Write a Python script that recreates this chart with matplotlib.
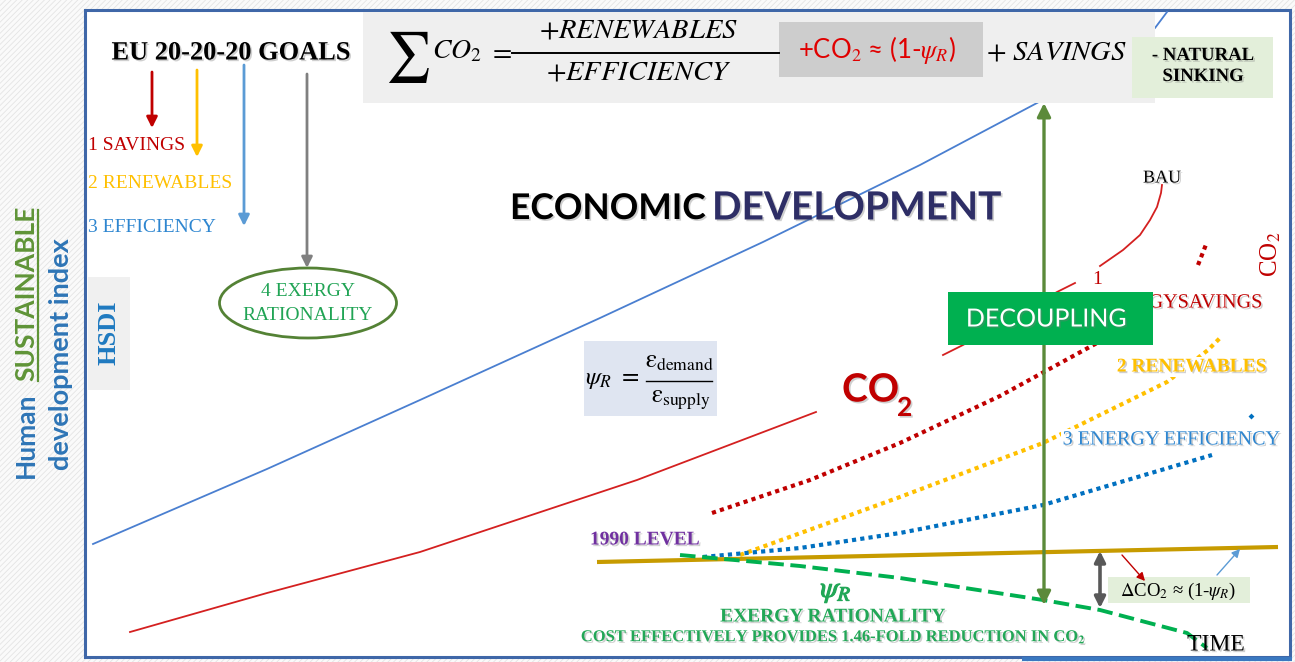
import matplotlib
matplotlib.use("Agg")
import matplotlib.pyplot as plt
import numpy as np
from matplotlib.patches import Rectangle, Ellipse
import matplotlib.patheffects as pe

plt.rcParams['mathtext.fontset'] = 'stix'
plt.rcParams['hatch.linewidth'] = 0.6

SERIF = 'Liberation Serif'
SANS = 'Lato'

# ---------------- data (schematic curves) -------------
econ_x = [93, 267, 420, 600, 763, 920, 1037, 1110, 1155, 1167]
econ_y = [544, 469, 400, 318, 242, 165, 103, 62, 28, 12]

co2_x = [130, 267, 420, 637, 816, np.nan, 943, 963, 1057, 1075, np.nan,
         1100, 1123, 1140, 1150, 1157, 1161, 1162]
co2_y = [632, 593, 552, 480, 412, np.nan, 355, 345, 292, 283, np.nan,
         266, 250, 235, 220, 207, 193, 185]

savings_x = [712, 810, 900, 1000, 1097, 1130, np.nan, 1198, 1207]
savings_y = [513, 480, 443, 396, 343, 318, np.nan, 265, 242]

renew_x = [740, 820, 900, 1043, 1167, 1208, 1220]
renew_y = [555, 526, 497, 443, 382, 350, 338]

effic_x = [703, 800, 900, 1043, 1212, np.nan, 1250, 1254]
effic_y = [557, 548, 533, 505, 455, np.nan, 418, 414]

level1990_x = [597, 1278]
level1990_y = [562, 547]

psi_x = [680, 800, 900, 1043, 1100, 1187, 1207]
psi_y = [555, 566, 578, 600, 610, 633, 648]

goal_labels = ['1 SAVINGS', '2 RENEWABLES', '3 EFFICIENCY']
goal_colors = ['#c00000', '#ffc000', '#2e86d0']
goal_label_y = [146, 183, 228]
goal_arrow_x = [152, 197, 244, 307]
goal_arrow_top = [72, 70, 65, 74]
goal_arrow_tip = [128, 157, 226, 268]
goal_arrow_col = ['#c00000', '#ffc000', '#5b9bd5', '#808080']

# ---------------- figure -------------------------------------------------------
W, H = 1295, 662
fig = plt.figure(figsize=(W / 100, H / 100), dpi=100)
ax = fig.add_axes([0, 0, 1, 1])
ax.set_xlim(0, W)
ax.set_ylim(H, 0)
ax.axis('off')

shadow = [pe.withSimplePatchShadow(offset=(1.2, -1.2), shadow_rgbFace='#777777', alpha=0.35)]

def T(x, y, s, size, color='black', family=SERIF, weight='normal', ha='center',
      va='center', z=6, **kw):
    return ax.text(x, y, s, fontsize=size, color=color, family=family, weight=weight,
                   ha=ha, va=va, zorder=z, **kw)

# background hatch and frame
ax.add_patch(Rectangle((0, 0), W, H, facecolor='#fafafa', edgecolor='#e4e4e4',
                       hatch='//////', lw=0, zorder=0))
ax.add_patch(Rectangle((85, 10), 1205, 647, facecolor='white', edgecolor='#3f67a8',
                       lw=2.2, zorder=0.5))
ax.plot([1022, 1292], [659, 659], color='#3a78c0', lw=3, zorder=0.6,
        solid_capstyle='butt')

# ---------------- curves ------------------------------------------------------
ax.plot(econ_x, econ_y, color='#4a7fd0', lw=1.3, zorder=1)
ax.plot(co2_x, co2_y, color='#d42020', lw=1.3, zorder=2)

dot = dict(lw=3.0, linestyle=(0, (1, 1)), zorder=3, dash_capstyle='butt')
ax.plot(savings_x, savings_y, color='#c00000', **dot)
ax.plot(renew_x, renew_y, color='#ffc000', **dot)
ax.plot(effic_x, effic_y, color='#0070c0', **dot)
ax.plot(level1990_x, level1990_y, color='#c79b00', lw=3.0, zorder=3.5,
        solid_capstyle='butt')
ax.plot(psi_x, psi_y, color='#00b050', lw=2.8, linestyle=(0, (4, 1.7)), zorder=3.6)

# ---------------- equation box ---------------------------------------------
ax.add_patch(Rectangle((363, 12), 792, 91, facecolor='#efefef', edgecolor='none', zorder=4))
ax.add_patch(Rectangle((779, 22), 204, 55, facecolor='#cdcdcd', edgecolor='none', zorder=4.5))
ax.add_patch(Rectangle((1132, 37), 141, 61, facecolor='#e3efda', edgecolor='none', zorder=4.5))

T(407, 57, r'$\sum$', 36, z=6)
T(457, 52, r'$CO_2$', 20, z=6)
T(500, 52, r'$=$', 20, z=6)
ax.plot([512, 779], [53, 53], color='black', lw=1.4, zorder=6)
T(639, 31, r'$+RENEWABLES$', 20.5, z=6)
T(639, 73, r'$+EFFICIENCY$', 20.5, z=6)
T(877, 50, r'+CO$_2$ ≈ (1-$\psi_R$)', 18.5, color='#e00000', family=SANS, z=6)
T(1057, 53, r'$+\ SAVINGS$', 20.5, z=6)
T(1203, 66, '- NATURAL\nSINKING', 13.5, weight='bold', linespacing=1.3, z=6,
  path_effects=shadow)

# ---------------- left side --------------------------------------------------
T(34, 478, 'Human', 19, color='#2e75b6', family=SANS, weight='bold',
  rotation=90, rotation_mode='anchor', ha='left', va='baseline')
T(34, 381, 'SUSTAINABLE', 19, color='#5f9437', family=SANS, weight='bold',
  rotation=90, rotation_mode='anchor', ha='left', va='baseline')
ax.plot([38, 38], [381, 210], color='#5f9437', lw=1.6, zorder=6)
T(69, 470, 'development index', 19.5, color='#2e75b6', family=SANS, weight='bold',
  rotation=90, rotation_mode='anchor', ha='left', va='baseline')

ax.add_patch(Rectangle((88, 277), 42, 113, facecolor='#f0f0f0', edgecolor='none', zorder=4))
T(109, 333, 'HSDI', 19, color='#1f7ac0', weight='bold', rotation=90)

T(231, 53, 'EU 20-20-20 GOALS', 19, weight='bold', path_effects=shadow)
for x, y0, y1, c in zip(goal_arrow_x, goal_arrow_top, goal_arrow_tip, goal_arrow_col):
    ax.annotate('', xy=(x, y1), xytext=(x, y0),
                arrowprops=dict(arrowstyle='-|>', color=c, lw=2.0, mutation_scale=16,
                                shrinkA=0, shrinkB=0), zorder=5)
for lab, c, y in zip(goal_labels, goal_colors, goal_label_y):
    T(88, y, lab, 14, color=c, ha='left')

ax.add_patch(Ellipse((308, 303), 177, 70, facecolor='white', edgecolor='#548235',
                     lw=2.0, zorder=5))
T(308, 292, '4 EXERGY', 14, color='#21a455')
T(308, 315, 'RATIONALITY', 14, color='#21a455')

# ---------------- middle -----------------------------------------------------
T(510, 209, 'ECONOMIC', 25.5, family=SANS, weight='bold', ha='left', path_effects=shadow)
T(712, 208, 'DEVELOPMENT', 28, color='#2e2e66', family=SANS, weight='bold', ha='left',
  path_effects=shadow)

ax.add_patch(Rectangle((584, 341), 133, 75, facecolor='#dfe5f1', edgecolor='none', zorder=4))
T(612, 380, r'$\psi_R\ =$', 18, z=6)
ax.plot([646, 712], [381, 381], color='black', lw=1.0, zorder=6)
T(679, 362, r'$\mathrm{\varepsilon}_{\mathrm{demand}}$', 18, z=6)
T(681, 400, r'$\mathrm{\varepsilon}_{\mathrm{supply}}$', 18, z=6)

T(842, 390, 'CO', 28, color='#c00000', family=SANS, weight='bold', ha='left',
  path_effects=shadow)
T(897, 408, '2', 19, color='#c00000', family=SANS, weight='bold', ha='left',
  path_effects=shadow)

# ---------------- right side -------------------------------------------------
ax.add_patch(Rectangle((948, 292), 205, 53, facecolor='#00b050', edgecolor='none', zorder=7))
T(1046, 319, 'DECOUPLING', 18, color='white', family=SANS, z=8, path_effects=shadow)

ax.annotate('', xy=(1044, 103), xytext=(1044, 605),
            arrowprops=dict(arrowstyle='<|-|>', color='#5b8a3a', lw=2.4, mutation_scale=20,
                            shrinkA=0, shrinkB=0), zorder=6.5)

T(1162, 178, 'BAU', 13, path_effects=shadow)
T(1097, 280, '1', 14, color='#c00000')
T(1262, 303, '1 ENERGYSAVINGS', 14.5, color='#c00000', ha='right', z=5,
  bbox=dict(facecolor='white', edgecolor='none', pad=1.5), path_effects=shadow)
T(1271, 254, r'CO$_2$', 18, color='#c00000', rotation=90)
T(1192, 367, '2 RENEWABLES', 14, color='#ffc000', weight='bold', z=5,
  bbox=dict(facecolor='white', edgecolor='none', pad=1.0), path_effects=shadow)
T(1171, 440, '3 ENERGY EFFICIENCY', 14.5, color='#2e86d0', z=5,
  bbox=dict(facecolor='white', edgecolor='none', pad=1.0), path_effects=shadow)

ax.annotate('', xy=(1100, 551), xytext=(1100, 608),
            arrowprops=dict(arrowstyle='<|-|>', color='#595959', lw=2.6, mutation_scale=16,
                            shrinkA=0, shrinkB=0), zorder=6)
ax.add_patch(Rectangle((1108, 577), 142, 26, facecolor='#e3efda', edgecolor='none', zorder=5))
T(1178, 591, r'$\Delta$CO$_2$ ≈ (1-$\psi_R$)', 13.5, z=6)
ax.annotate('', xy=(1145, 581), xytext=(1122, 555),
            arrowprops=dict(arrowstyle='-|>', color='#c00000', lw=1.0, mutation_scale=12,
                            shrinkA=0, shrinkB=0), zorder=6)
ax.annotate('', xy=(1240, 549), xytext=(1217, 575),
            arrowprops=dict(arrowstyle='-|>', color='#5b9bd5', lw=1.0, mutation_scale=12,
                            shrinkA=0, shrinkB=0), zorder=6)

T(1216, 645, 'TIME', 17, path_effects=shadow)
T(590, 540, '1990 LEVEL', 14, color='#7030a0', weight='bold', ha='left', path_effects=shadow)

# ---------------- bottom text ------------------------------------------------
GREEN = '#22a757'
T(836, 592, r'$\psi_R$', 21, color=GREEN,
  path_effects=[pe.withStroke(linewidth=0.8, foreground=GREEN)])
T(833, 617, 'EXERGY RATIONALITY', 14, color=GREEN, weight='bold', path_effects=shadow)
T(833, 637, r'COST EFFECTIVELY PROVIDES 1.46-FOLD REDUCTION IN CO$_\mathbf{2}$', 11.9,
  color=GREEN, weight='bold', path_effects=shadow)

fig.savefig('out.png', dpi=100)
